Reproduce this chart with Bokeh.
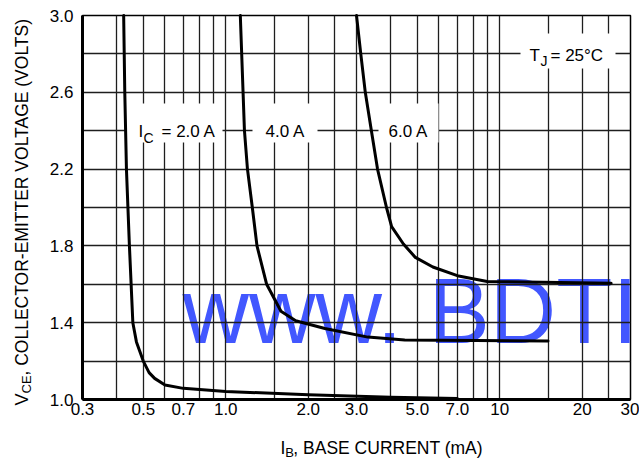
import numpy as np
from bokeh.plotting import figure
from bokeh.layouts import row, column
from bokeh.models import Range1d, FixedTicker, CustomJSTickFormatter, Label, BoxAnnotation
from bokeh.embed import file_html
from bokeh.resources import INLINE

# ---------------- data ----------------
x_major_ticks = [0.3, 0.5, 0.7, 1.0, 2.0, 3.0, 5.0, 7.0, 10, 20, 30]
x_minor_ticks = [0.4, 0.6, 0.8, 0.9, 1.5, 2.5, 4.0, 6.0, 8.0, 9.0, 15, 25]
y_major_ticks = [1.0, 1.4, 1.8, 2.2, 2.6, 3.0]
y_minor_ticks = [1.2, 1.6, 2.0, 2.4, 2.8]

ic2_ib = [0.424, 0.428, 0.434, 0.445, 0.458, 0.472, 0.50, 0.525, 0.55, 0.60, 0.70, 1.0, 2.0, 4.0, 7.0]
ic2_vce = [3.0, 2.6, 2.2, 1.8, 1.4, 1.3, 1.2, 1.14, 1.11, 1.075, 1.058, 1.042, 1.025, 1.012, 1.005]

ic4_ib = [1.13, 1.17, 1.20, 1.25, 1.30, 1.41, 1.59, 1.80, 2.3, 3.3, 4.5, 15]
ic4_vce = [3.0, 2.4, 2.2, 2.0, 1.8, 1.6, 1.46, 1.41, 1.37, 1.325, 1.31, 1.305]

ic6_ib = [3.0, 3.11, 3.23, 3.40, 3.58, 3.86, 4.03, 4.45, 4.92, 5.7, 7.0, 9.0, 25.5]
ic6_vce = [3.0, 2.8, 2.6, 2.4, 2.2, 2.0, 1.9, 1.81, 1.74, 1.69, 1.645, 1.615, 1.605]

# ---------------- layout geometry (reference pixels) ----------------
W, H = 639, 464
YT_W = 36            # width of the strip holding the vertical axis title
XT_H = 39            # height of the strip holding the horizontal axis title
FL, FR, FT, FB = 82, 630, 15, 399   # plot frame edges

def xd(px):
    return 0.3 * 10 ** (2.0 * (px - FL) / (FR - FL))
def yd(py):
    return 3.0 - 2.0 * (py - FT) / (FB - FT)

FONT = "Liberation Sans"

p = figure(width=W - YT_W, height=H - XT_H, x_axis_type="log",
           x_range=Range1d(0.3, 30), y_range=Range1d(1.0, 3.0),
           output_backend="svg", toolbar_location=None,
           min_border_left=FL - YT_W, min_border_right=W - FR,
           min_border_top=FT, min_border_bottom=(H - XT_H) - FB)
p.background_fill_color = "white"
p.border_fill_color = "white"
p.outline_line_color = "black"
p.outline_line_width = 1.5

p.xaxis.ticker = FixedTicker(ticks=x_major_ticks, minor_ticks=x_minor_ticks)
p.yaxis.ticker = FixedTicker(ticks=y_major_ticks, minor_ticks=y_minor_ticks)
p.xaxis.formatter = CustomJSTickFormatter(code="return tick < 10 ? tick.toFixed(1) : tick.toFixed(0);")
p.yaxis.formatter = CustomJSTickFormatter(code="return tick.toFixed(1);")

for ax in (p.xaxis, p.yaxis):
    ax.major_tick_out = 0
    ax.major_tick_in = 0
    ax.minor_tick_out = 0
    ax.minor_tick_in = 0
    ax.axis_line_width = 3
    ax.axis_line_color = "black"
    ax.major_label_text_font = FONT
    ax.major_label_text_font_size = "17px"
    ax.major_label_text_color = "black"
p.xaxis.major_label_standoff = 3
p.yaxis.major_label_standoff = 9

for g in (p.xgrid, p.ygrid):
    g.grid_line_color = "#1e1e1e"
    g.grid_line_width = 1.3
    g.minor_grid_line_color = "#1e1e1e"
    g.minor_grid_line_width = 1.3

def lab(fig, text, x, y, size, angle=0.0, baseline="alphabetic", color="black", level="overlay"):
    fig.add_layout(Label(x=x, y=y, text=text, text_font=FONT,
                         text_font_size=f"{size}px", text_align="left",
                         text_baseline=baseline, angle=angle, text_color=color,
                         level=level))

# watermark (under the grid)
lab(p, "www.", xd(182), yd(310), 92, color="#4257FF", level="image")
lab(p, "BDTI", xd(428), yd(310), 92, color="#4257FF", level="image")

# white boxes behind the in-plot labels
for (l, r, t, b) in [(125, 222, 103, 142), (252, 317, 103, 142), (378, 438, 103, 142), (520, 615, 33, 68)]:
    p.add_layout(BoxAnnotation(left=xd(l), right=xd(r), top=yd(t), bottom=yd(b),
                               fill_color="white", fill_alpha=1.0, line_color=None, level="glyph"))

for xs, ys in [(ic2_ib, ic2_vce), (ic4_ib, ic4_vce), (ic6_ib, ic6_vce)]:
    r = p.line(xs, ys, line_color="black", line_width=3, line_join="round", line_cap="round")
    r.level = "annotation"

# curve labels
lab(p, "I", xd(138), yd(131), 17)
lab(p, "C", xd(143), yd(137), 14)
lab(p, "= 2.0 A", xd(161), yd(131), 17)
lab(p, "4.0 A", xd(265), yd(131), 17)
lab(p, "6.0 A", xd(388), yd(131), 17)
lab(p, "T", xd(529), yd(55), 17)
lab(p, "J", xd(540), yd(60), 14)
lab(p, "= 25\u00b0C", xd(550), yd(55), 17)

def strip(width, height, x0, x1, y0, y1):
    f = figure(width=width, height=height, x_range=Range1d(x0, x1), y_range=Range1d(y1, y0),
               output_backend="svg", toolbar_location=None,
               x_axis_location=None, y_axis_location=None,
               min_border=0, min_border_left=0, min_border_right=0,
               min_border_top=0, min_border_bottom=0)
    f.outline_line_color = None
    f.grid.visible = False
    f.background_fill_color = "white"
    f.border_fill_color = "white"
    return f

# vertical axis title strip (coordinates = reference pixels)
yt = strip(YT_W, H, 0, YT_W, 0, H)
lab(yt, "V", 21, 405, 18, angle=np.pi / 2, baseline="middle")
lab(yt, "CE", 25.5, 393, 13, angle=np.pi / 2, baseline="middle")
lab(yt, ", COLLECTOR-EMITTER VOLTAGE (VOLTS)", 21, 375, 17.5, angle=np.pi / 2, baseline="middle")

# horizontal axis title strip
xt = strip(W - YT_W, XT_H, YT_W, W, H - XT_H, H)
lab(xt, "I", 254, 447, 17.5)
lab(xt, "B", 259, 452, 13)
lab(xt, ", BASE CURRENT (mA)", 268, 447, 17.5)

layout = row(yt, column(p, xt, spacing=0), spacing=0)

open("out.html", "w").write(file_html(layout, INLINE))
